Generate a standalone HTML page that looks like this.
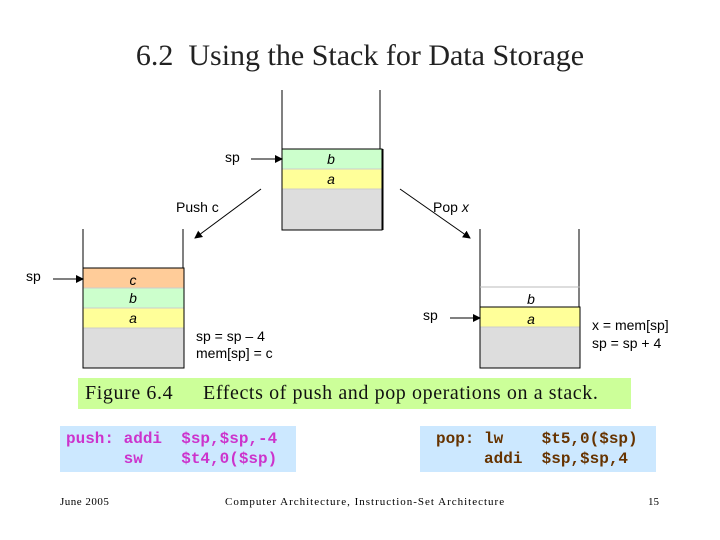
<!DOCTYPE html>
<html><head><meta charset="utf-8"><style>
body{margin:0;width:720px;height:540px;background:#fff;position:relative;overflow:hidden;font-family:"Liberation Sans",sans-serif}
.a{position:absolute}
.serif{font-family:"Liberation Serif",serif}
.mono{font-family:"Liberation Mono",monospace;font-weight:bold;font-size:16px;white-space:pre;line-height:20px}
</style></head><body>
<div class="a serif" style="left:0;width:720px;top:39px;text-align:center;font-size:30px;color:#222">6.2&nbsp; Using the Stack for Data Storage</div>
<svg class="a" style="left:0;top:0" width="720" height="540" font-family="Liberation Sans,sans-serif" font-size="14">
<defs><marker id="ar" markerWidth="8" markerHeight="8" refX="7" refY="4" orient="auto" markerUnits="userSpaceOnUse"><path d="M0,0 L8,4 L0,8z" fill="#000"/></marker></defs>
<line x1="282" y1="90" x2="282" y2="149" stroke="#000"/><line x1="380" y1="90" x2="380" y2="149" stroke="#000"/>
<rect x="282" y="149" width="100" height="20" fill="#ccffcc"/><rect x="282" y="169" width="100" height="20" fill="#ffff99"/><rect x="282" y="189" width="100" height="41" fill="#dddddd"/>
<line x1="282" y1="169" x2="382" y2="169" stroke="#ccc"/><line x1="282" y1="189" x2="382" y2="189" stroke="#ccc"/>
<rect x="282" y="149" width="100" height="81" fill="none" stroke="#000"/><line x1="382.5" y1="149" x2="382.5" y2="230" stroke="#000" stroke-width="2"/>
<text x="331" y="164" font-style="italic" text-anchor="middle">b</text><text x="331" y="184" font-style="italic" text-anchor="middle">a</text>
<text x="225" y="162">sp</text><line x1="251" y1="159" x2="282" y2="159" stroke="#000" marker-end="url(#ar)"/>
<line x1="261" y1="189" x2="195" y2="238" stroke="#000" marker-end="url(#ar)"/><text x="176" y="212">Push c</text>
<line x1="400" y1="189" x2="470" y2="238" stroke="#000" marker-end="url(#ar)"/><text x="433" y="212">Pop <tspan font-style="italic">x</tspan></text>
<line x1="83" y1="229" x2="83" y2="268" stroke="#000"/><line x1="183" y1="229" x2="183" y2="268" stroke="#000"/>
<rect x="83" y="268" width="101" height="20" fill="#ffcc99"/><rect x="83" y="288" width="101" height="20" fill="#ccffcc"/><rect x="83" y="308" width="101" height="20" fill="#ffff99"/><rect x="83" y="328" width="101" height="40" fill="#dddddd"/>
<line x1="83" y1="288" x2="184" y2="288" stroke="#ccc"/><line x1="83" y1="308" x2="184" y2="308" stroke="#ccc"/><line x1="83" y1="328" x2="184" y2="328" stroke="#ccc"/>
<rect x="83" y="268" width="101" height="100" fill="none" stroke="#000"/>
<text x="133" y="285" font-style="italic" text-anchor="middle">c</text><text x="133" y="303" font-style="italic" text-anchor="middle">b</text><text x="133" y="323" font-style="italic" text-anchor="middle">a</text>
<text x="26" y="281">sp</text><line x1="53" y1="279" x2="83" y2="279" stroke="#000" marker-end="url(#ar)"/>
<text x="196" y="341">sp = sp  – 4</text><text x="196" y="358">mem[sp] = c</text>
<line x1="480" y1="229" x2="480" y2="307" stroke="#000"/><line x1="579" y1="229" x2="579" y2="307" stroke="#000"/>
<line x1="480" y1="287" x2="580" y2="287" stroke="#bbb"/>
<rect x="480" y="307" width="100" height="20" fill="#ffff99"/><rect x="480" y="327" width="100" height="41" fill="#dddddd"/>
<line x1="480" y1="327" x2="580" y2="327" stroke="#ccc"/>
<rect x="480" y="307" width="100" height="61" fill="none" stroke="#000"/>
<text x="531" y="304" font-style="italic" text-anchor="middle">b</text><text x="531" y="324" font-style="italic" text-anchor="middle">a</text>
<text x="423" y="320">sp</text><line x1="450" y1="318" x2="480" y2="318" stroke="#000" marker-end="url(#ar)"/>
<text x="592" y="330">x = mem[sp]</text><text x="592" y="348">sp = sp + 4</text>
</svg>
<div class="a serif" style="left:78px;top:378px;width:553px;height:31px;background:#ccff99;font-size:20px;letter-spacing:0.6px;line-height:31px;color:#111;white-space:nowrap"><span class="a" style="left:7px">Figure 6.4</span><span class="a" style="left:125px">Effects of push and pop operations on a stack.</span></div>
<div class="a mono" style="left:60px;top:426px;width:236px;height:46px;background:#cce8ff;color:#cc33cc;padding:3px 0 0 6px;box-sizing:border-box">push: addi  $sp,$sp,-4
      sw    $t4,0($sp)</div>
<div class="a mono" style="left:420px;top:426px;width:236px;height:46px;background:#cce8ff;color:#663300;padding:3px 0 0 16px;box-sizing:border-box">pop: lw    $t5,0($sp)
     addi  $sp,$sp,4</div>
<div class="a serif" style="left:60px;top:496px;font-size:11px;letter-spacing:0.5px">June 2005</div>
<div class="a serif" style="left:225px;top:496px;font-size:11px;letter-spacing:1px">Computer Architecture, Instruction-Set Architecture</div>
<div class="a serif" style="left:648px;top:496px;font-size:11px">15</div>
</body></html>
